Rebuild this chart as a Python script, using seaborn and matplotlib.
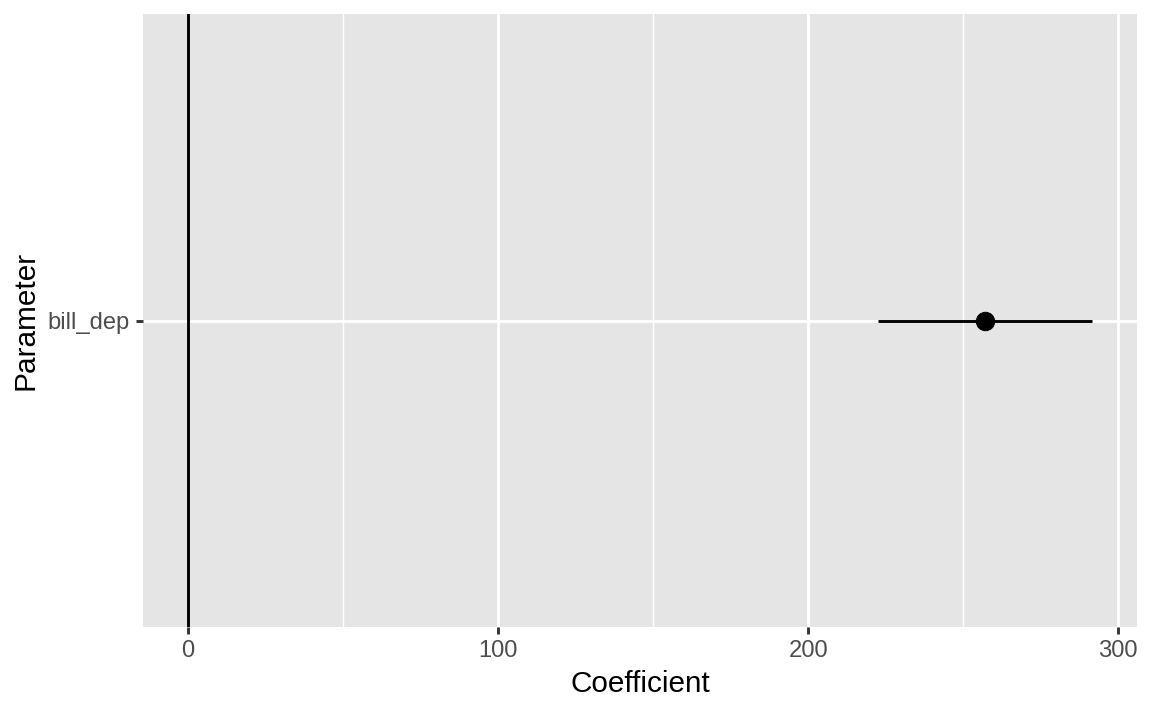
import matplotlib
matplotlib.use("Agg")
import matplotlib.pyplot as plt
import numpy as np
import pandas as pd
import seaborn as sns

# model coefficient with its interval
params = ["bill_dep"]
estimate = [257.0]
conf_low = [222.4]
conf_high = [291.5]

df = pd.DataFrame({"param": params, "estimate": estimate,
                   "low": conf_low, "high": conf_high})

sns.set_theme(style="darkgrid", rc={
    "axes.facecolor": "#E5E5E5",
    "grid.color": "white",
    "axes.edgecolor": "none",
    "xtick.bottom": True,
    "ytick.left": True,
})
plt.rcParams["font.family"] = ["Liberation Sans", "DejaVu Sans"]

k = 1.35  # scale relative to ggplot defaults
fig, ax = plt.subplots(figsize=(8, 4.9375), dpi=144)
fig.subplots_adjust(left=0.124, right=0.987, top=0.980, bottom=0.118)

ypos = np.arange(len(params))
ax.axvline(0, color="black", lw=1.07 * k, zorder=2)
ax.hlines(ypos, df["low"], df["high"], color="black", lw=1.07 * k, zorder=3)
sns.scatterplot(x=df["estimate"], y=ypos, ax=ax, color="black", s=85,
                edgecolor="black", linewidth=0.5, zorder=4)

lo = min(0, df["low"].min())
hi = df["high"].max()
pad = (hi - lo) * 0.05
ax.set_xlim(lo - pad, hi + pad)
ax.set_ylim(-0.6, len(params) - 0.4)

ax.set_xticks([0, 100, 200, 300])
ax.set_xticks([50, 150, 250], minor=True)
ax.set_yticks(ypos)
ax.set_yticklabels(params)
ax.grid(which="major", color="white", lw=1.07 * k)
ax.grid(which="minor", axis="x", color="white", lw=0.53 * k)
ax.tick_params(axis="both", which="major", length=2.75 * k, width=1.07 * k,
               color="#333333", labelcolor="#4D4D4D", labelsize=8.8 * k,
               pad=2.2 * k, bottom=True, left=True)
ax.tick_params(axis="both", which="minor", length=0)
for s in ax.spines.values():
    s.set_visible(False)

ax.set_xlabel("Coefficient", fontsize=11 * k, color="black", labelpad=2.75 * k)
ax.set_ylabel("Parameter", fontsize=11 * k, color="black", labelpad=2.75 * k)

fig.savefig("out.png", dpi=144, facecolor="white")
